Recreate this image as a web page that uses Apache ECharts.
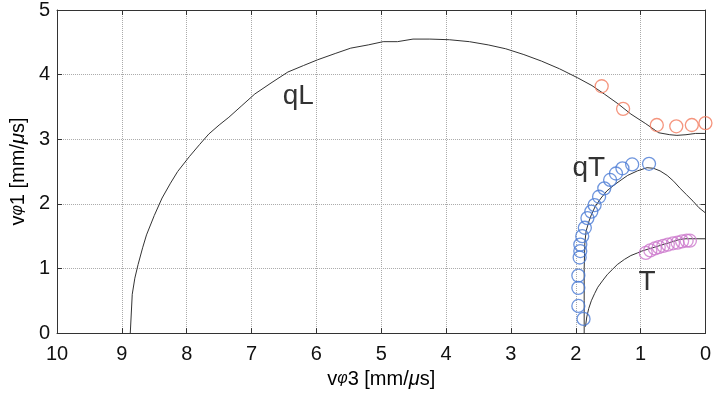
<!DOCTYPE html>
<html>
<head>
<meta charset="utf-8">
<script src="https://cdn.jsdelivr.net/npm/echarts@6/dist/echarts.min.js"></script>
<style>html,body{margin:0;padding:0;background:#fff;}#c{width:714px;height:394px;}</style>
</head>
<body>
<div id="c"></div>
<script>
// qL theory curve
var qLx = [8.87,8.84,8.80,8.75,8.68,8.62,8.50,8.38,8.25,8.14,7.96,7.80,7.66,7.50,7.35,7.15,6.95,6.70,6.44,6.20,5.98,5.70,5.47,5.20,4.97,4.75,4.51,4.25,3.95,3.64,3.35,3.08,2.80,2.53,2.25,1.97,1.75,1.56,1.35,1.15,0.92,0.72,0.55,0.44,0.30,0.15,0.0];
var qLy = [0,0.60,0.85,1.06,1.32,1.52,1.82,2.09,2.32,2.50,2.73,2.92,3.08,3.22,3.34,3.52,3.70,3.87,4.04,4.14,4.23,4.33,4.41,4.46,4.51,4.51,4.55,4.55,4.54,4.51,4.46,4.40,4.31,4.21,4.09,3.95,3.83,3.70,3.55,3.39,3.24,3.10,3.07,3.06,3.07,3.09,3.09];
// qT theory curve
var qTx = [1.87,1.87,1.87,1.86,1.84,1.80,1.76,1.70,1.61,1.52,1.41,1.30,1.20,1.05,0.90,0.80,0.70,0.59,0.49,0.39,0.29,0.19,0.10,0.0];
var qTy = [0,0.5,1.0,1.4,1.58,1.72,1.83,1.96,2.09,2.20,2.29,2.37,2.44,2.51,2.56,2.55,2.51,2.44,2.35,2.24,2.14,2.04,1.94,1.86];
// T theory curve
var Tx = [1.85,1.83,1.80,1.76,1.71,1.66,1.58,1.51,1.43,1.36,1.25,1.15,1.05,0.98,0.85,0.75,0.62,0.49,0.40,0.30,0.15,0.0];
var Ty = [0.10,0.25,0.38,0.50,0.61,0.71,0.82,0.91,0.99,1.06,1.14,1.20,1.24,1.27,1.31,1.34,1.38,1.42,1.45,1.46,1.46,1.46];
// measured points
var mqLx = [1.60,1.27,0.75,0.45,0.21,0.0];
var mqLy = [3.82,3.47,3.22,3.20,3.22,3.25];
var mqTx = [1.88,1.96,1.96,1.96,1.94,1.93,1.93,1.90,1.86,1.82,1.76,1.71,1.64,1.56,1.47,1.38,1.28,1.13,0.87];
var mqTy = [0.22,0.42,0.70,0.89,1.17,1.27,1.37,1.50,1.63,1.78,1.88,1.98,2.11,2.24,2.37,2.47,2.55,2.61,2.62];
var mTx = [0.92,0.85,0.78,0.72,0.65,0.58,0.50,0.43,0.36,0.29,0.24];
var mTy = [1.24,1.28,1.31,1.33,1.35,1.37,1.39,1.40,1.42,1.43,1.43];
// annotation labels
var labelText = ['qL','qT','T'];
var labelX = [6.28,1.80,0.90];
var labelY = [3.67,2.55,0.78];
// tick labels
var xTicks = ['10','9','8','7','6','5','4','3','2','1','0'];
var yTicks = ['0','1','2','3','4','5'];

function zip(a,b){return a.map(function(v,i){return [v,b[i]];});}
var FONT = "'Liberation Sans Narrow','Liberation Sans',Arial,sans-serif";
var FONT2 = "'Liberation Sans',Arial,sans-serif";
var chart = echarts.init(document.getElementById('c'), null, {renderer:'canvas'});
var axisCommon = {
  min:0,
  interval:1,
  axisLine:{show:true,onZero:false,lineStyle:{color:'#333',width:1}},
  axisTick:{show:true,inside:true,length:5,lineStyle:{color:'#333'}},
  splitLine:{show:false}
};
var nameRich = {
  i:{fontStyle:'italic',fontSize:16,color:'#000',fontFamily:FONT2},
  m:{fontStyle:'italic',fontSize:20,color:'#000',fontFamily:FONT2}
};
var option = {
  animation:false,
  backgroundColor:'#fff',
  grid:{left:53,right:5,top:10,bottom:58,containLabel:false},
  xAxis:[
    Object.assign({}, axisCommon, {
      type:'value', position:'bottom', max:10, inverse:true,
      axisLabel:{show:true,margin:11,fontSize:20,color:'#111',fontFamily:FONT,
        formatter:function(v){return xTicks[10-Math.round(v)];}},
      splitLine:{show:true,lineStyle:{color:'#aaa',type:'dotted',width:1}},
      name:'v{i|φ}3 [mm/{m|μ}s]', nameLocation:'middle', nameGap:28,
      nameTextStyle:{fontSize:20,color:'#000',fontFamily:FONT2,rich:nameRich}
    }),
    Object.assign({}, axisCommon, {
      type:'value', position:'top', max:10, inverse:true,
      axisLabel:{show:false}
    })
  ],
  yAxis:[
    Object.assign({}, axisCommon, {
      type:'value', position:'left', max:5,
      axisLabel:{show:true,margin:7,fontSize:20,color:'#111',fontFamily:FONT,
        formatter:function(v){return yTicks[Math.round(v)];}},
      splitLine:{show:true,lineStyle:{color:'#aaa',type:'dotted',width:1}},
      name:'v{i|φ}1 [mm/{m|μ}s]', nameLocation:'middle', nameGap:20, nameRotate:90,
      nameTextStyle:{fontSize:20,color:'#000',fontFamily:FONT2,rich:nameRich}
    }),
    Object.assign({}, axisCommon, {
      type:'value', position:'right', max:5,
      axisLabel:{show:false}
    })
  ],
  series:[
    {type:'line',data:zip(qLx,qLy),showSymbol:false,lineStyle:{color:'#333',width:1},z:3},
    {type:'line',data:zip(qTx,qTy),showSymbol:false,lineStyle:{color:'#333',width:1},z:3},
    {type:'line',data:zip(Tx,Ty),showSymbol:false,lineStyle:{color:'#333',width:1},z:3},
    {type:'scatter',data:zip(mqLx,mqLy),symbol:'circle',symbolSize:13,clip:false,
      itemStyle:{color:'rgba(0,0,0,0)',borderColor:'#f27a5e',borderWidth:1.3},z:4},
    {type:'scatter',data:zip(mqTx,mqTy),symbol:'circle',symbolSize:13,clip:false,
      itemStyle:{color:'rgba(0,0,0,0)',borderColor:'#4a7bd4',borderWidth:1.3},z:4},
    {type:'scatter',data:zip(mTx,mTy),symbol:'circle',symbolSize:13,clip:false,
      itemStyle:{color:'rgba(0,0,0,0)',borderColor:'#cc77cc',borderWidth:1.3},z:4},
    {type:'scatter',symbolSize:0,silent:true,z:5,
      data:labelText.map(function(t,i){return {value:[labelX[i],labelY[i]],name:t};}),
      label:{show:true,position:'inside',formatter:'{b}',fontSize:28,color:'#000',
        fontFamily:FONT2}}
  ]
};
chart.setOption(option);
</script>
</body>
</html>
